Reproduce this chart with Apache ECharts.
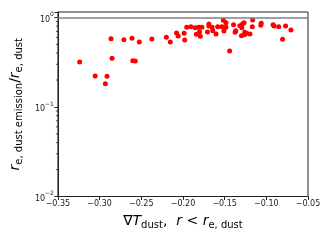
<!DOCTYPE html>
<html>
<head>
<meta charset="utf-8">
<script src="https://cdn.jsdelivr.net/npm/echarts@6/dist/echarts.min.js"></script>
<style>html,body{margin:0;padding:0;background:#fff}#c{width:330px;height:240px}</style>
</head>
<body>
<div id="c"></div>
<script>
var gradT = [-0.3239,-0.3053,-0.2911,-0.2931,-0.2863,-0.2851,-0.2709,-0.2611,-0.2602,-0.2572,-0.2524,-0.2373,-0.2199,-0.2152,-0.2077,-0.2057,-0.1986,-0.1979,-0.1955,-0.1905,-0.1852,-0.1813,-0.1772,-0.1801,-0.1840,-0.1792,-0.1689,-0.1689,-0.1650,-0.1706,-0.1642,-0.1603,-0.1583,-0.1532,-0.1516,-0.1484,-0.1508,-0.1484,-0.1440,-0.1393,-0.1366,-0.1374,-0.1318,-0.1286,-0.1294,-0.1262,-0.1267,-0.1259,-0.1235,-0.1196,-0.1298,-0.1164,-0.1168,-0.1061,-0.1066,-0.0919,-0.0907,-0.0852,-0.0769,-0.0705,-0.0805];
var ratio = [0.318,0.222,0.220,0.182,0.580,0.350,0.565,0.586,0.329,0.327,0.532,0.575,0.601,0.532,0.671,0.621,0.666,0.561,0.777,0.789,0.769,0.777,0.777,0.694,0.649,0.617,0.846,0.804,0.777,0.689,0.712,0.654,0.789,0.789,0.930,0.875,0.707,0.777,0.422,0.831,0.712,0.684,0.810,0.846,0.769,0.642,0.875,0.684,0.666,0.654,0.626,0.938,0.789,0.861,0.818,0.831,0.804,0.789,0.804,0.725,0.571];
var xTicks = [-0.35,-0.30,-0.25,-0.20,-0.15,-0.10,-0.05];
var yTickExp = {'0.01':'\u22122','0.1':'\u22121','1':'0'};
var minorTickValues = [0.02,0.03,0.04,0.05,0.06,0.07,0.08,0.09,0.2,0.3,0.4,0.5,0.6,0.7,0.8,0.9];
var refLine = 1;

var pts = gradT.map(function(x,i){return [x, ratio[i]];});
var FF = 'DejaVu Sans';
var chart = echarts.init(document.getElementById('c'), null, {renderer:'canvas'});
chart.setOption({
  animation:false,
  backgroundColor:'#fff',
  grid:{left:55,right:22,top:12,bottom:43.5,show:true,borderColor:'#222',borderWidth:1,backgroundColor:'transparent'},
  xAxis:{
    type:'value',min:-0.35,max:-0.05,interval:0.05,
    axisLine:{show:true,onZero:false,lineStyle:{color:'#222',width:1}},
    axisTick:{show:true,inside:false,length:3.5,lineStyle:{color:'#222',width:1}},
    splitLine:{show:false},
    axisLabel:{fontFamily:FF,fontSize:8,color:'#222',margin:3,
      formatter:function(v){return (v<0?'\u2212':'')+Math.abs(v).toFixed(2);}},
    name:'{m|\u2207}{i|T}{s|dust}{m|,  }{i|r}{m| < }{i|r}{s|e, dust}',
    nameLocation:'middle',nameGap:16,
    nameTextStyle:{fontFamily:FF,color:'#000',
      rich:{
        m:{fontFamily:FF,fontSize:14,lineHeight:18,verticalAlign:'middle'},
        i:{fontFamily:FF,fontSize:14,fontStyle:'italic',lineHeight:18,verticalAlign:'middle'},
        s:{fontFamily:FF,fontSize:10,lineHeight:10,verticalAlign:'bottom',padding:[0,0,0,0]}
      }}
  },
  yAxis:{
    type:'log',logBase:10,min:0.01,max:1.152,
    axisLine:{show:true,lineStyle:{color:'#222',width:1}},
    axisTick:{show:true,inside:false,length:3.5,lineStyle:{color:'#222',width:1}},
    minorTick:{show:false},
    splitLine:{show:false},
    axisLabel:{fontFamily:FF,fontSize:8,color:'#222',margin:4,
      formatter:function(v){
        var key = String(+v.toPrecision(3));
        var e = yTickExp[key];
        if(e===undefined) return '';
        return '{b|10}{e|'+e+'}';
      },
      rich:{
        b:{fontFamily:FF,fontSize:8,color:'#222',lineHeight:12,verticalAlign:'bottom'},
        e:{fontFamily:FF,fontSize:6,color:'#222',lineHeight:12,verticalAlign:'top'}
      }},
    name:'{i|r}{s|e, dust emission}{m|/}{i|r}{s|e, dust}',
    nameLocation:'middle',nameRotate:90,nameGap:33,
    nameTextStyle:{fontFamily:FF,color:'#000',
      rich:{
        m:{fontFamily:FF,fontSize:14,lineHeight:18,verticalAlign:'middle'},
        i:{fontFamily:FF,fontSize:14,fontStyle:'italic',lineHeight:18,verticalAlign:'middle'},
        s:{fontFamily:FF,fontSize:10,lineHeight:10,verticalAlign:'bottom'}
      }}
  },
  series:[
    {type:'scatter',data:pts,symbol:'circle',symbolSize:5,
     itemStyle:{color:'#ff0000',opacity:1},
     markLine:{silent:true,symbol:'none',label:{show:false},
       lineStyle:{color:'#808080',width:1.5,type:'solid'},
       data:[{yAxis:refLine}]}},
    {type:'custom',silent:true,clip:false,
     data:minorTickValues.map(function(v){return [-0.35,v];}),
     renderItem:function(params,api){
       var p = api.coord([api.value(0),api.value(1)]);
       return {type:'line',shape:{x1:p[0]-2,y1:p[1],x2:p[0],y2:p[1]},style:{stroke:'#222',lineWidth:0.8}};
     }}
  ]
});
</script>
</body>
</html>
